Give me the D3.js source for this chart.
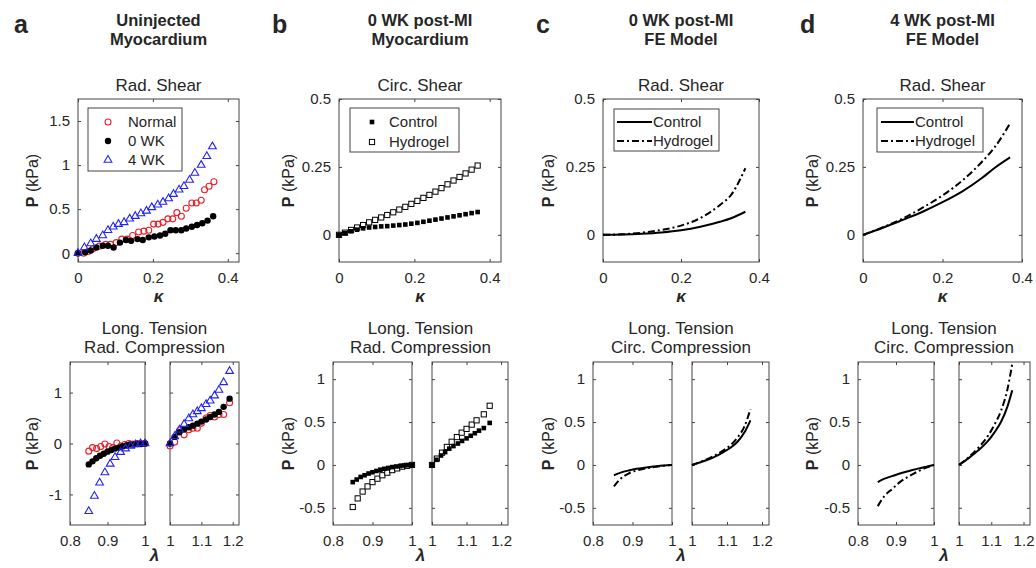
<!DOCTYPE html>
<html>
<head>
<meta charset="utf-8">
<script src="https://cdn.jsdelivr.net/npm/d3@7"></script>
<style>
  body { margin: 0; background: #fff; }
  text { font-family: "Liberation Sans", Arial, Helvetica, sans-serif; }
</style>
</head>
<body>
<script>
(function() {

/* ---- data: panel a, uninjected myocardium ---- */
var aNormalK = [0, 0.015, 0.027, 0.04, 0.057, 0.074, 0.087, 0.102, 0.117, 0.131, 0.146, 0.162, 0.176, 0.189,
                0.202, 0.214, 0.227, 0.24, 0.253, 0.264, 0.276, 0.289, 0.304, 0.316, 0.329, 0.338, 0.35, 0.363],
    aNormalP = [0, 0, 0.02, 0.05, 0.08, 0.1, 0.1, 0.12, 0.16, 0.16, 0.2, 0.24, 0.25, 0.26,
                0.33, 0.33, 0.35, 0.39, 0.39, 0.46, 0.42, 0.51, 0.57, 0.57, 0.6, 0.72, 0.76, 0.81],
    a0wkK = [0, 0.019, 0.034, 0.049, 0.066, 0.08, 0.095, 0.112, 0.128, 0.142, 0.159, 0.173, 0.189,
             0.204, 0.219, 0.233, 0.247, 0.261, 0.276, 0.289, 0.304, 0.318, 0.332, 0.346, 0.361],
    a0wkP = [0, 0.01, 0.03, 0.065, 0.085, 0.085, 0.065, 0.12, 0.15, 0.14, 0.16, 0.15, 0.18,
             0.19, 0.2, 0.22, 0.26, 0.26, 0.26, 0.28, 0.3, 0.32, 0.34, 0.37, 0.42],
    a4wkK = [0, 0.017, 0.034, 0.049, 0.066, 0.08, 0.094, 0.108, 0.123, 0.138, 0.153, 0.168, 0.183,
             0.197, 0.213, 0.227, 0.242, 0.255, 0.27, 0.283, 0.298, 0.312, 0.329, 0.344, 0.359],
    a4wkP = [0, 0.065, 0.11, 0.16, 0.2, 0.26, 0.3, 0.33, 0.35, 0.39, 0.42, 0.45, 0.48,
             0.52, 0.55, 0.58, 0.62, 0.67, 0.72, 0.76, 0.83, 0.91, 1.0, 1.1, 1.21];

var aCompLamNormal = [0.85, 0.86, 0.871, 0.882, 0.893, 0.904, 0.914, 0.925, 0.936, 0.946, 0.957, 0.968, 0.979, 0.989, 1.0],
    aCompNormal    = [-0.15, -0.08, -0.1, -0.06, -0.01, -0.06, -0.08, 0.01, -0.05, -0.02, 0, -0.01, 0, 0, 0],
    aCompLam0wk    = [0.85, 0.86, 0.87, 0.88, 0.89, 0.9, 0.91, 0.92, 0.93, 0.94, 0.95, 0.96, 0.97, 0.98, 0.99, 1.0],
    aComp0wk       = [-0.41, -0.35, -0.29, -0.24, -0.2, -0.16, -0.13, -0.1, -0.08, -0.06, -0.04, -0.02, -0.02, -0.01, -0.01, 0],
    aCompLam4wk    = [0.85, 0.865, 0.879, 0.893, 0.907, 0.92, 0.935, 0.948, 0.962, 0.975, 0.988, 1.0],
    aComp4wk       = [-1.33, -1.03, -0.77, -0.57, -0.4, -0.27, -0.17, -0.1, -0.05, -0.02, 0, 0];

var aTensLam    = [1.0, 1.015, 1.03, 1.045, 1.06, 1.073, 1.087, 1.1, 1.115, 1.128, 1.142, 1.156, 1.171, 1.19],
    aTensNormal = [-0.05, 0.03, 0.25, 0.17, 0.27, 0.3, 0.3, 0.4, 0.5, 0.55, 0.52, 0.57, 0.57, 0.8],
    aTens0wk    = [0, 0.13, 0.22, 0.28, 0.32, 0.35, 0.39, 0.43, 0.47, 0.52, 0.57, 0.62, 0.72, 0.88],
    aTens4wk    = [0, 0.14, 0.27, 0.38, 0.49, 0.57, 0.63, 0.69, 0.77, 0.84, 0.94, 1.05, 1.2, 1.42];

/* ---- data: panel b, 0 WK post-MI myocardium ---- */
var bShearK = [0, 0.016, 0.032, 0.048, 0.064, 0.08, 0.096, 0.112, 0.128, 0.144, 0.16, 0.176,
               0.192, 0.208, 0.224, 0.24, 0.256, 0.272, 0.288, 0.304, 0.32, 0.336, 0.352, 0.368],
    bShearControl = [0, 0.006, 0.013, 0.019, 0.024, 0.027, 0.029, 0.031, 0.032, 0.034, 0.036, 0.038,
                     0.041, 0.044, 0.048, 0.052, 0.056, 0.06, 0.064, 0.068, 0.072, 0.076, 0.08, 0.084],
    bShearHydrogel = [0, 0.008, 0.018, 0.027, 0.036, 0.046, 0.055, 0.064, 0.073, 0.083, 0.093, 0.103,
                      0.114, 0.125, 0.136, 0.147, 0.159, 0.172, 0.186, 0.2, 0.213, 0.226, 0.24, 0.255];

var bCompLamControl = [0.85, 0.86, 0.87, 0.88, 0.89, 0.9, 0.91, 0.92, 0.93, 0.94, 0.95, 0.96, 0.97, 0.98, 0.99, 1.0],
    bCompControl    = [-0.2, -0.17, -0.14, -0.12, -0.1, -0.085, -0.07, -0.055, -0.045, -0.035, -0.025, -0.018, -0.012, -0.006, -0.003, 0],
    bCompLamHydrogel = [0.85, 0.8625, 0.875, 0.8875, 0.9, 0.9125, 0.925, 0.9375, 0.95, 0.9625, 0.975, 0.9875, 1.0],
    bCompHydrogel    = [-0.49, -0.39, -0.31, -0.25, -0.2, -0.16, -0.12, -0.09, -0.06, -0.04, -0.02, -0.01, 0];

var bTensLamControl = [1.0, 1.013, 1.026, 1.038, 1.05, 1.062, 1.075, 1.087, 1.1, 1.112, 1.124, 1.136, 1.15, 1.167],
    bTensControl    = [0, 0.06, 0.11, 0.15, 0.19, 0.22, 0.25, 0.28, 0.31, 0.34, 0.37, 0.4, 0.43, 0.49],
    bTensLamHydrogel = [1.0, 1.014, 1.029, 1.043, 1.057, 1.072, 1.086, 1.1, 1.115, 1.129, 1.15, 1.167],
    bTensHydrogel    = [0, 0.074, 0.143, 0.21, 0.27, 0.325, 0.376, 0.42, 0.47, 0.52, 0.59, 0.69];

/* ---- data: panel c, 0 WK post-MI FE model ---- */
var cShearK        = [0, 0.05, 0.1, 0.15, 0.2, 0.25, 0.3, 0.33, 0.365],
    cShearControl  = [0, 0.001, 0.004, 0.009, 0.017, 0.03, 0.048, 0.062, 0.085],
    cShearHydrogel = [0, 0.002, 0.008, 0.018, 0.034, 0.062, 0.11, 0.15, 0.245];
var cCompLam      = [0.853, 0.87, 0.89, 0.91, 0.935, 0.96, 0.98, 1.0],
    cCompControl  = [-0.12, -0.09, -0.065, -0.045, -0.03, -0.015, -0.006, 0],
    cCompHydrogel = [-0.25, -0.16, -0.1, -0.065, -0.04, -0.02, -0.008, 0];
var cTensLam      = [1.0, 1.03, 1.06, 1.09, 1.11, 1.13, 1.15, 1.167],
    cTensControl  = [0, 0.04, 0.085, 0.15, 0.2, 0.27, 0.38, 0.52],
    cTensHydrogel = [0, 0.045, 0.1, 0.17, 0.23, 0.32, 0.45, 0.65];

/* ---- data: panel d, 4 WK post-MI FE model ---- */
var dShearK        = [0, 0.05, 0.1, 0.15, 0.2, 0.25, 0.3, 0.33, 0.37],
    dShearControl  = [0, 0.026, 0.055, 0.085, 0.12, 0.16, 0.21, 0.245, 0.285],
    dShearHydrogel = [0, 0.028, 0.06, 0.1, 0.145, 0.2, 0.27, 0.32, 0.41];
var dCompLam      = [0.852, 0.87, 0.89, 0.91, 0.935, 0.96, 0.98, 1.0],
    dCompControl  = [-0.2, -0.16, -0.13, -0.1, -0.07, -0.04, -0.02, 0],
    dCompHydrogel = [-0.48, -0.36, -0.28, -0.2, -0.13, -0.07, -0.03, 0];
var dTensLam      = [1.0, 1.03, 1.06, 1.09, 1.11, 1.13, 1.15, 1.165],
    dTensControl  = [0, 0.08, 0.17, 0.28, 0.38, 0.5, 0.68, 0.87],
    dTensHydrogel = [0, 0.09, 0.2, 0.34, 0.47, 0.63, 0.88, 1.18];

/* ---- tick labels ---- */
var shearTicksX = [0, 0.2, 0.4],
    compTicksX  = [0.8, 0.9, 1],
    tensTicksX  = [1, 1.1, 1.2],
    aShearTicksY = [0, 0.5, 1, 1.5],
    aLongTicksY  = [-1, 0, 1],
    shearTicksY  = [0, 0.25, 0.5],
    longTicksY   = [-0.5, 0, 0.5, 1];

var FONT = '"Liberation Sans", Arial, Helvetica, sans-serif',
    AX = "#444", TXT = "#262626",
    RED = "#e8202a", BLUE = "#2424f0",
    width = 1036, height = 568,
    topY = [99, 262], botY = [362, 525];

var svg = d3.select("body").append("svg")
  .attr("width", width).attr("height", height);

function fmt(d) { return String(d); }

function zip(xs, ys) { return xs.map(function(x, i) { return [x, ys[i]]; }); }

function frame(x, y, xt, yt, showY) {
  var g = svg.append("g"),
      r = x.range(), d = y.range();

  g.append("g").attr("transform", "translate(0," + d[0] + ")")
    .call(d3.axisBottom(x).tickValues(xt).tickSize(-3).tickPadding(10).tickFormat(fmt));
  g.append("g").attr("transform", "translate(0," + d[1] + ")")
    .call(d3.axisTop(x).tickValues(xt).tickSize(-3).tickFormat(""));
  g.append("g").attr("transform", "translate(" + r[0] + ",0)")
    .call(d3.axisLeft(y).tickValues(yt).tickSize(-3).tickPadding(8).tickFormat(showY ? fmt : ""));
  g.append("g").attr("transform", "translate(" + r[1] + ",0)")
    .call(d3.axisRight(y).tickValues(yt).tickSize(-3).tickFormat(""));

  g.selectAll("g").attr("font-size", 15).attr("font-family", FONT);
  g.selectAll(".domain").remove();
  g.selectAll(".tick line").attr("stroke", AX);
  g.selectAll(".tick text").attr("fill", TXT);

  g.append("rect")
    .attr("x", r[0]).attr("y", d[1])
    .attr("width", r[1] - r[0]).attr("height", d[0] - d[1])
    .attr("fill", "none").attr("stroke", AX).attr("stroke-width", 1);
  return g;
}

function label(x, y, str, size, weight, anchor) {
  return svg.append("text")
    .attr("x", x).attr("y", y)
    .attr("text-anchor", anchor || "middle")
    .attr("font-size", size)
    .attr("font-weight", weight || "normal")
    .attr("fill", TXT)
    .text(str);
}

function ylabel(x, cy) {
  var t = svg.append("text")
    .attr("transform", "translate(" + x + "," + cy + ") rotate(-90)")
    .attr("text-anchor", "middle").attr("dy", "0.35em")
    .attr("font-size", 16).attr("fill", TXT);
  t.append("tspan").attr("font-weight", "bold").text("P");
  t.append("tspan").text(" (kPa)");
}

/* marker painters */
var markers = {
  normal: function(sel) {
    sel.append("circle").attr("r", 3).attr("fill", "none").attr("stroke", RED).attr("stroke-width", 1.1);
  },
  wk0: function(sel) {
    sel.append("circle").attr("r", 3.2).attr("fill", "#000");
  },
  wk4: function(sel) {
    sel.append("path").attr("d", d3.symbol(d3.symbolTriangle, 26)())
      .attr("fill", "none").attr("stroke", BLUE).attr("stroke-width", 1.1);
  },
  control: function(sel) {
    sel.append("rect").attr("x", -2.3).attr("y", -2.3).attr("width", 4.6).attr("height", 4.6).attr("fill", "#000");
  },
  hydrogel: function(sel) {
    sel.append("rect").attr("x", -2.6).attr("y", -2.6).attr("width", 5.2).attr("height", 5.2)
      .attr("fill", "#fff").attr("stroke", "#000").attr("stroke-width", 1);
  }
};

function scatter(x, y, pts, kind) {
  svg.append("g").selectAll("g")
    .data(pts).enter().append("g")
    .attr("transform", function(d) { return "translate(" + x(d[0]) + "," + y(d[1]) + ")"; })
    .call(markers[kind]);
}

var dashes = { control: null, hydrogel: "7,3,2,3" };

function curve(x, y, pts, kind) {
  var line = d3.line()
    .x(function(d) { return x(d[0]); })
    .y(function(d) { return y(d[1]); })
    .curve(d3.curveMonotoneX);
  svg.append("path").datum(pts)
    .attr("d", line)
    .attr("fill", "none").attr("stroke", "#000").attr("stroke-width", 2)
    .attr("stroke-dasharray", dashes[kind]);
}

function legend(box, rows, mx, tx, kind) {
  svg.append("rect")
    .attr("x", box[0]).attr("y", box[1]).attr("width", box[2] - box[0]).attr("height", box[3] - box[1])
    .attr("fill", "#fff").attr("stroke", AX);
  rows.forEach(function(r) {
    if (kind === "line") {
      svg.append("line").attr("x1", mx[0]).attr("x2", mx[1]).attr("y1", r.y).attr("y2", r.y)
        .attr("stroke", "#000").attr("stroke-width", 2).attr("stroke-dasharray", dashes[r.key]);
    } else {
      svg.append("g").attr("transform", "translate(" + mx + "," + r.y + ")").call(markers[r.key]);
    }
    label(tx, r.y, r.text, 15, "normal", "start").attr("dy", "0.35em");
  });
}

/* ---- layout for each column ---- */
var cols = [
  { letter: "a", lx: 14, title: ["Uninjected", "Myocardium"], shear: "Rad. Shear",
    long: ["Long. Tension", "Rad. Compression"], top: [78, 239], left: [70, 145], right: [170, 239],
    ylx: 32, yTop: [-0.1, 1.75], yBot: [-1.6, 1.6], xTop: [0, 0.43], tyTop: aShearTicksY, tyBot: aLongTicksY },
  { letter: "b", lx: 272, title: ["0 WK post-MI", "Myocardium"], shear: "Circ. Shear",
    long: ["Long. Tension", "Rad. Compression"], top: [339, 501], left: [333, 412], right: [432, 508],
    ylx: 288, yTop: [-0.1, 0.5], yBot: [-0.7, 1.2], xTop: [0, 0.43], tyTop: shearTicksY, tyBot: longTicksY },
  { letter: "c", lx: 536, title: ["0 WK post-MI", "FE Model"], shear: "Rad. Shear",
    long: ["Long. Tension", "Circ. Compression"], top: [603, 759], left: [593, 672], right: [692, 769],
    ylx: 548, yTop: [-0.1, 0.5], yBot: [-0.7, 1.2], xTop: [0, 0.4], tyTop: shearTicksY, tyBot: longTicksY },
  { letter: "d", lx: 800, title: ["4 WK post-MI", "FE Model"], shear: "Rad. Shear",
    long: ["Long. Tension", "Circ. Compression"], top: [863, 1022], left: [858, 934], right: [959, 1030],
    ylx: 812, yTop: [-0.1, 0.5], yBot: [-0.7, 1.2], xTop: [0, 0.4], tyTop: shearTicksY, tyBot: longTicksY }
];

cols.forEach(function(c) {
  var tc = (c.top[0] + c.top[1]) / 2,
      bc = (c.left[0] + c.right[1]) / 2;

  c.xS = d3.scaleLinear().domain(c.xTop).range(c.top);
  c.yS = d3.scaleLinear().domain(c.yTop).range([topY[1], topY[0]]);
  c.xL = d3.scaleLinear().domain([0.8, 1]).range(c.left);
  c.xR = d3.scaleLinear().domain([1, 1.22]).range(c.right);
  c.yB = d3.scaleLinear().domain(c.yBot).range([botY[1], botY[0]]);

  label(c.lx, 33, c.letter, 25, "bold", "start");
  label(tc, 26, c.title[0], 16.5, "bold");
  label(tc, 45, c.title[1], 16.5, "bold");
  label(tc, 91, c.shear, 17);
  label(bc, 334, c.long[0], 17);
  label(bc, 353, c.long[1], 17);

  frame(c.xS, c.yS, shearTicksX, c.tyTop, true);
  frame(c.xL, c.yB, compTicksX, c.tyBot, true);
  frame(c.xR, c.yB, tensTicksX, c.tyBot, false);

  ylabel(c.ylx, (topY[0] + topY[1]) / 2);
  ylabel(c.ylx, (botY[0] + botY[1]) / 2);
  label(tc, 302, "κ", 17, "bold").attr("font-style", "italic");
  label(bc, 561, "λ", 17, "bold").attr("font-style", "italic");
});

var A = cols[0], B = cols[1], C = cols[2], D = cols[3];

/* panel a */
scatter(A.xS, A.yS, zip(aNormalK, aNormalP), "normal");
scatter(A.xS, A.yS, zip(a0wkK, a0wkP), "wk0");
scatter(A.xS, A.yS, zip(a4wkK, a4wkP), "wk4");
scatter(A.xL, A.yB, zip(aCompLamNormal, aCompNormal), "normal");
scatter(A.xL, A.yB, zip(aCompLam0wk, aComp0wk), "wk0");
scatter(A.xL, A.yB, zip(aCompLam4wk, aComp4wk), "wk4");
scatter(A.xR, A.yB, zip(aTensLam, aTensNormal), "normal");
scatter(A.xR, A.yB, zip(aTensLam, aTens0wk), "wk0");
scatter(A.xR, A.yB, zip(aTensLam, aTens4wk), "wk4");
legend([88, 108, 182, 171], [
  { key: "normal", text: "Normal", y: 122 },
  { key: "wk0", text: "0 WK", y: 141 },
  { key: "wk4", text: "4 WK", y: 160 }], 108, 128, "marker");

/* panel b */
scatter(B.xS, B.yS, zip(bShearK, bShearHydrogel), "hydrogel");
scatter(B.xS, B.yS, zip(bShearK, bShearControl), "control");
scatter(B.xL, B.yB, zip(bCompLamHydrogel, bCompHydrogel), "hydrogel");
scatter(B.xL, B.yB, zip(bCompLamControl, bCompControl), "control");
scatter(B.xR, B.yB, zip(bTensLamHydrogel, bTensHydrogel), "hydrogel");
scatter(B.xR, B.yB, zip(bTensLamControl, bTensControl), "control");
legend([350, 108, 459, 152], [
  { key: "control", text: "Control", y: 122 },
  { key: "hydrogel", text: "Hydrogel", y: 142 }], 372, 389, "marker");

/* panel c */
curve(C.xS, C.yS, zip(cShearK, cShearControl), "control");
curve(C.xS, C.yS, zip(cShearK, cShearHydrogel), "hydrogel");
curve(C.xL, C.yB, zip(cCompLam, cCompControl), "control");
curve(C.xL, C.yB, zip(cCompLam, cCompHydrogel), "hydrogel");
curve(C.xR, C.yB, zip(cTensLam, cTensControl), "control");
curve(C.xR, C.yB, zip(cTensLam, cTensHydrogel), "hydrogel");
legend([614, 109, 719, 151], [
  { key: "control", text: "Control", y: 122 },
  { key: "hydrogel", text: "Hydrogel", y: 141 }], [617, 652], 653, "line");

/* panel d */
curve(D.xS, D.yS, zip(dShearK, dShearControl), "control");
curve(D.xS, D.yS, zip(dShearK, dShearHydrogel), "hydrogel");
curve(D.xL, D.yB, zip(dCompLam, dCompControl), "control");
curve(D.xL, D.yB, zip(dCompLam, dCompHydrogel), "hydrogel");
curve(D.xR, D.yB, zip(dTensLam, dTensControl), "control");
curve(D.xR, D.yB, zip(dTensLam, dTensHydrogel), "hydrogel");
legend([877, 108, 983, 152], [
  { key: "control", text: "Control", y: 122 },
  { key: "hydrogel", text: "Hydrogel", y: 141 }], [881, 914], 915, "line");

}());
</script>
</body>
</html>
